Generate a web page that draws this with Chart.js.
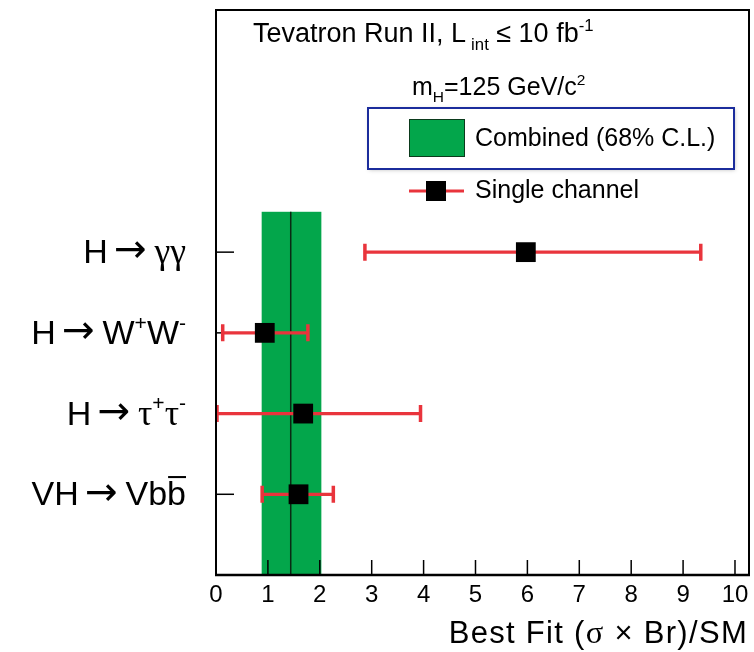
<!DOCTYPE html>
<html><head><meta charset="utf-8">
<script src="https://cdn.jsdelivr.net/npm/chart.js@4.4.0/dist/chart.umd.min.js"></script>
<style>html,body{margin:0;padding:0;background:#fff;} #wrap{width:754px;height:652px;}</style>
</head><body><div id="wrap"><canvas id="c" width="754" height="652"></canvas></div>
<script>
// ---- data ----
const channels = ['H→γγ', 'H→W+W-', 'H→τ+τ-', 'VH→Vbb̄'];
const rowPositions = [4, 3, 2, 1];
const bestFit = [5.97, 0.94, 1.68, 1.59];
const errLow = [2.85, 0.11, 0.00, 0.87];
const errHigh = [9.36, 1.79, 3.96, 2.28];
const combinedFit = 1.44;
const combinedLow = 0.88;
const combinedHigh = 2.03;
const combinedTop = 4.5;
const xTickValues = [0, 1, 2, 3, 4, 5, 6, 7, 8, 9, 10];

const SANS = '"Liberation Sans", Arial, sans-serif';
const SERIF = '"Liberation Serif", "Times New Roman", serif';
const ARROWF = '"DejaVu Sans", sans-serif';
const RED = '#e9343c';
const GREEN = '#03a64b';

// rich label pieces per channel (text only)
const channelParts = [
  [{t:'H'},{t:'→',f:ARROWF,sz:1.15,dx:6,dy:-0.02},{t:'γγ',f:SERIF,sz:1.05,dx:8}],
  [{t:'H'},{t:'→',f:ARROWF,sz:1.15,dx:6,dy:-0.02},{t:'W',dx:8},{t:'+',m:'sup'},{t:'W'},{t:'-',m:'sup'}],
  [{t:'H'},{t:'→',f:ARROWF,sz:1.15,dx:6,dy:-0.02},{t:'τ',f:SERIF,sz:1.05,dx:8},{t:'+',m:'sup'},{t:'τ',f:SERIF,sz:1.05},{t:'-',m:'sup'}],
  [{t:'VH'},{t:'→',f:ARROWF,sz:1.15,dx:6,dy:-0.02},{t:'Vb',dx:8},{t:'b',over:true}]
];

function drawRich(ctx, parts, x, y, size, align, spacing) {
  ctx.save();
  if ('letterSpacing' in ctx) ctx.letterSpacing = (spacing || 0) + 'px';
  const specs = parts.map(p => {
    const s = (p.m ? size * 0.62 : size) * (p.sz || 1);
    const font = s + 'px ' + (p.f || SANS);
    ctx.font = font;
    return Object.assign({}, p, {font, w: ctx.measureText(p.t).width, s});
  });
  const total = specs.reduce((a, b) => a + b.w + (b.dx || 0), 0);
  let cx = align === 'right' ? x - total : x;
  ctx.textAlign = 'left';
  ctx.textBaseline = 'alphabetic';
  ctx.fillStyle = '#000';
  for (const p of specs) {
    cx += p.dx || 0;
    ctx.font = p.font;
    let dy = p.m === 'sub' ? size * 0.28 : (p.m === 'sup' ? -size * 0.42 : 0);
    dy += (p.dy || 0) * size;
    ctx.fillText(p.t, cx, y + dy);
    if (p.over) ctx.fillRect(cx + 1, y - size * 0.86, p.w - 1, Math.max(2, size * 0.06));
    cx += p.w;
  }
  ctx.restore();
}

const decorPlugin = {
  id: 'decor',
  beforeDatasetsDraw(chart) {
    const {ctx, chartArea: a, scales: {x, y}} = chart;
    ctx.save();
    // combined band
    const bl = x.getPixelForValue(combinedLow), br = x.getPixelForValue(combinedHigh);
    const bt = y.getPixelForValue(combinedTop), bb = y.getPixelForValue(0);
    ctx.fillStyle = GREEN;
    ctx.fillRect(bl, bt, br - bl, bb - bt);
    // central value line
    const cxp = x.getPixelForValue(combinedFit);
    ctx.strokeStyle = '#0a2a14';
    ctx.lineWidth = 1.5;
    ctx.beginPath(); ctx.moveTo(cxp, bt); ctx.lineTo(cxp, bb); ctx.stroke();
    // x ticks (inside)
    ctx.strokeStyle = '#000';
    ctx.lineWidth = 1.5;
    xTickValues.forEach(v => {
      const px = x.getPixelForValue(v);
      ctx.beginPath(); ctx.moveTo(px, a.bottom); ctx.lineTo(px, a.bottom - 15); ctx.stroke();
    });
    // y ticks (inside)
    rowPositions.forEach(r => {
      const py = y.getPixelForValue(r);
      ctx.beginPath(); ctx.moveTo(a.left, py); ctx.lineTo(a.left + 18, py); ctx.stroke();
    });
    // error bars
    ctx.strokeStyle = RED;
    bestFit.forEach((v, i) => {
      const py = y.getPixelForValue(rowPositions[i]);
      const l = x.getPixelForValue(errLow[i]), r = x.getPixelForValue(errHigh[i]);
      ctx.lineWidth = 3.2;
      ctx.beginPath(); ctx.moveTo(l, py); ctx.lineTo(r, py); ctx.stroke();
      ctx.lineWidth = 3.5;
      ctx.beginPath();
      ctx.moveTo(l + 1, py - 8.5); ctx.lineTo(l + 1, py + 8.5);
      ctx.moveTo(r - 1, py - 8.5); ctx.lineTo(r - 1, py + 8.5);
      ctx.stroke();
    });
    ctx.restore();
  },
  afterDraw(chart) {
    const {ctx, chartArea: a, scales: {y}} = chart;
    ctx.save();
    // frame
    ctx.strokeStyle = '#000';
    ctx.lineWidth = 2;
    ctx.strokeRect(a.left, a.top, a.right - a.left, a.bottom - a.top);
    ctx.lineWidth = 2.6;
    ctx.beginPath(); ctx.moveTo(a.left - 1, a.bottom); ctx.lineTo(a.right + 1, a.bottom); ctx.stroke();
    // channel labels
    channelParts.forEach((parts, i) => {
      const py = y.getPixelForValue(rowPositions[i]);
      drawRich(ctx, parts, 186, py + 11, 34, 'right');
    });
    // header texts
    drawRich(ctx, [{t:'Tevatron Run II, L'},{t:'int',m:'sub',dx:5},{t:' ≤ 10 fb'},{t:'-1',m:'sup'}], 253, 42, 27, 'left');
    drawRich(ctx, [{t:'m'},{t:'H',m:'sub'},{t:'=125 GeV/c'},{t:'2',m:'sup'}], 412, 95, 25, 'left');
    // legend box
    ctx.save();
    ctx.shadowColor = 'rgba(0,0,0,0.25)';
    ctx.shadowBlur = 4;
    ctx.shadowOffsetX = 1; ctx.shadowOffsetY = 1;
    ctx.fillStyle = '#fff';
    ctx.fillRect(368, 108, 366, 61);
    ctx.restore();
    ctx.strokeStyle = '#1b2c9c';
    ctx.lineWidth = 2;
    ctx.strokeRect(368, 108, 366, 61);
    ctx.fillStyle = GREEN;
    ctx.fillRect(409, 119, 55, 37);
    ctx.strokeStyle = '#0b3a1c';
    ctx.lineWidth = 1;
    ctx.strokeRect(409.5, 119.5, 55, 37);
    drawRich(ctx, [{t:'Combined (68% C.L.)'}], 475, 146, 25, 'left');
    // single channel entry
    ctx.strokeStyle = RED;
    ctx.lineWidth = 3.2;
    ctx.beginPath(); ctx.moveTo(409, 191); ctx.lineTo(464, 191); ctx.stroke();
    ctx.fillStyle = '#000';
    ctx.fillRect(426, 181, 20, 20);
    drawRich(ctx, [{t:'Single channel'}], 475, 198, 25, 'left');
    // x axis title
    drawRich(ctx, [{t:'Best Fit ('},{t:'σ',f:SERIF,sz:1.05},{t:' × Br)/SM'}], 748, 643, 31, 'right', 1.3);
    ctx.restore();
  }
};

new Chart(document.getElementById('c').getContext('2d'), {
  type: 'scatter',
  data: {
    datasets: [{
      label: 'Single channel',
      data: bestFit.map((v, i) => ({x: v, y: rowPositions[i]})),
      pointStyle: 'rect',
      pointRadius: 14,
      pointHoverRadius: 14,
      backgroundColor: '#000',
      borderColor: '#000',
      borderWidth: 0,
      clip: false
    }]
  },
  options: {
    responsive: false,
    animation: false,
    events: [],
    layout: {autoPadding: false, padding: {left: 216, right: 5, top: 10, bottom: 0}},
    plugins: {legend: {display: false}, tooltip: {enabled: false}},
    scales: {
      x: {
        type: 'linear', min: 0, max: 10.27,
        afterBuildTicks(s) { s.ticks = xTickValues.map(v => ({value: v})); },
        afterFit(s) { s.height = 77; s.paddingLeft = 0; s.paddingRight = 0; },
        ticks: {font: {family: SANS, size: 24}, color: '#000', padding: 6, maxRotation: 0, autoSkip: false, callback: v => String(v)},
        grid: {display: false, drawTicks: false},
        border: {display: false}
      },
      y: {type: 'linear', min: 0, max: 7, display: false}
    }
  },
  plugins: [decorPlugin]
});
</script>
</body></html>
